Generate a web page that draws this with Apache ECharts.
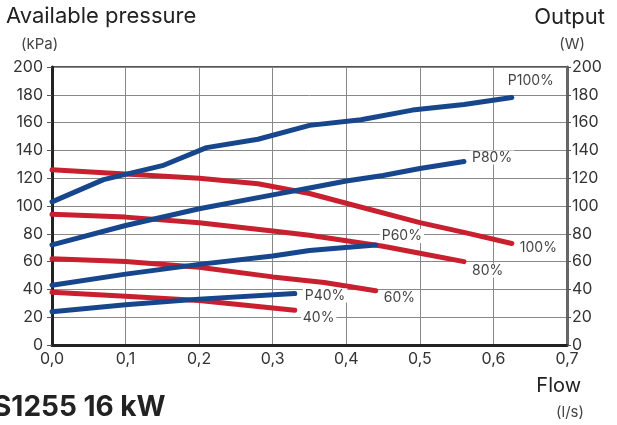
<!DOCTYPE html>
<html><head><meta charset="utf-8">
<script src="https://cdn.jsdelivr.net/npm/echarts@6/dist/echarts.min.js"></script>
<style>html,body{margin:0;padding:0;background:#fff}#c{width:617px;height:425px}</style>
</head><body><div id="c"></div>
<script>
const xTicks = [0, 0.1, 0.2, 0.3, 0.4, 0.5, 0.6, 0.7];
const p100 = [[0,103],[0.07,119],[0.15,129],[0.21,142],[0.28,148],[0.35,158],[0.42,162],[0.49,169],[0.56,173],[0.625,178]];
const p80  = [[0,72],[0.1,86],[0.2,98],[0.3,108],[0.35,113],[0.4,118],[0.45,122],[0.5,127],[0.56,132]];
const p60  = [[0,43],[0.1,51],[0.2,58],[0.3,64],[0.35,68],[0.44,72]];
const p40  = [[0,24],[0.1,29],[0.2,33],[0.33,37]];
const r100 = [[0,126],[0.1,123],[0.2,120],[0.28,116],[0.35,109],[0.4,102],[0.5,88],[0.56,81],[0.625,73]];
const r80  = [[0,94],[0.1,92],[0.2,88],[0.3,82],[0.35,79],[0.4,75],[0.45,71],[0.5,66],[0.56,60]];
const r60  = [[0,62],[0.1,60],[0.2,56],[0.3,49],[0.37,45],[0.44,39]];
const r40  = [[0,38],[0.1,35],[0.2,32],[0.33,25]];
const seriesNames = ['P100%','P80%','P60%','P40%','100%','80%','60%','40%'];
const seriesData = [p100,p80,p60,p40,r100,r80,r60,r40];
const labelOffsets = [[-6,-17],[6,-4],[4,-9],[8,2],[6,4],[6,9],[6,7],[6,8]];
const BLUE = '#17468c', RED = '#c8202f';
const FONT = 'Inter, "Noto Sans", sans-serif';

const chart = echarts.init(document.getElementById('c'));
const series = seriesData.map((d,i)=>({
  type:'line', data:d, showSymbol:false, symbol:'none', silent:true,
  z: i<4 ? 4 : 3,
  lineStyle:{width:5, color: i<4?BLUE:RED, cap:'round', join:'round'},
  endLabel:{show:true, formatter: seriesNames[i], distance:0, offset: labelOffsets[i],
    color:'#444', fontSize:14, fontFamily:FONT, backgroundColor:'#fff', padding:[0,2]}
}));
chart.setOption({
  animation:false,
  grid:{left:52, right:50, top:67, bottom:80, show:true, borderColor:'#555', borderWidth:2},
  xAxis:{type:'value', min:0, max:0.7, interval:0.1,
    axisLine:{show:true, onZero:false, lineStyle:{color:'#222', width:3}},
    axisTick:{show:false},
    axisLabel:{color:'#333', fontSize:16, fontFamily:FONT, margin:6,
      formatter:v=>v.toFixed(1).replace('.',',')},
    splitLine:{show:true, lineStyle:{color:'#888', width:1}}},
  yAxis:[
    {type:'value', min:0, max:200, interval:20, position:'left',
     axisLine:{show:true, lineStyle:{color:'#222', width:3}},
     axisTick:{show:true, length:5, lineStyle:{color:'#555', width:1}},
     axisLabel:{color:'#333', fontSize:16, fontFamily:FONT, margin:9},
     splitLine:{show:true, lineStyle:{color:'#888', width:1}}},
    {type:'value', min:0, max:200, interval:20, position:'right',
     axisLine:{show:true, lineStyle:{color:'#666', width:3}},
     axisTick:{show:true, length:4, lineStyle:{color:'#555', width:1}},
     axisLabel:{color:'#333', fontSize:16, fontFamily:FONT, margin:5},
     splitLine:{show:false}}
  ],
  series: series,
  graphic:[
    {type:'text', left:6, top:5, style:{text:'Available pressure', fontSize:22, fontFamily:FONT, fill:'#222'}},
    {type:'text', left:21, top:37, style:{text:'(kPa)', fontSize:15, fontFamily:FONT, fill:'#444'}},
    {type:'text', right:12, top:6, style:{text:'Output', fontSize:22, fontFamily:FONT, fill:'#222'}},
    {type:'text', right:32, top:37, style:{text:'(W)', fontSize:15, fontFamily:FONT, fill:'#444'}},
    {type:'text', right:36, top:376, style:{text:'Flow', fontSize:20, fontFamily:FONT, fill:'#222'}},
    {type:'text', right:33, top:405, style:{text:'(l/s)', fontSize:15, fontFamily:FONT, fill:'#444'}},
    {type:'text', left:-7, top:394, style:{text:'S1255 16 kW', fontSize:28, fontWeight:'bold', fontFamily:FONT, fill:'#222'}}
  ]
});
</script></body></html>
